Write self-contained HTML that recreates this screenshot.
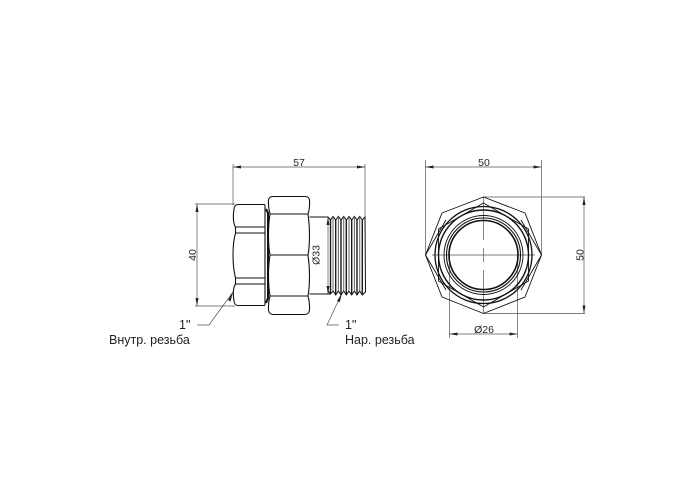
<!DOCTYPE html>
<html><head><meta charset="utf-8"><style>
html,body{margin:0;padding:0;background:#fff;width:700px;height:500px;overflow:hidden}
svg{display:block}
text{font-family:"Liberation Sans",sans-serif;fill:#222}
</style></head><body>
<svg width="700" height="500" viewBox="0 0 700 500" xmlns="http://www.w3.org/2000/svg">
<rect width="700" height="500" fill="#fff"/>
<!-- dimension lines -->
<g stroke="#555" stroke-width="0.7" fill="none">
<path d="M233 164V205M365 164V217M233 167H365"/>
<path d="M195 204H235M195 306H235M197 204V306"/>
<path d="M328 217V294"/>
<path d="M233 292L209 325H197"/>
<path d="M342 293L327 325H339"/>
<path d="M425.500 160V255M541.500 160V255M425.500 167H541.500"/>
<path d="M483 197H585M483 313.500H585M584 197V313.500"/>
<path d="M449.500 255V338M517.500 255V338M449.500 334H517.500"/>
<path d="M432 255H535M483.500 197V240M483.500 248V262M483.500 270V313M476 255H491"/>
</g>
<g fill="#222">
<path d="M233 167l8-1.500v3zM365 167l-8-1.500v3z"/>
<path d="M197 204l-1.500 8h3zM197 306l-1.500-8h3z"/>
<path d="M328 217l-1.500 8h3zM328 294l-1.500-8h3z"/>
<path d="M233 292l-5 8 2.500 1.500zM342 293l-5 8 2.800 1.200z"/>
<path d="M425.500 167l8-1.500v3zM541.500 167l-8-1.500v3z"/>
<path d="M584 197l-1.500 8h3zM584 313.500l-1.500-8h3z"/>
<path d="M449.500 334l8-1.500v3zM517.500 334l-8-1.500v3z"/>
</g>
<!-- left nut -->
<g stroke="#111" stroke-width="1.100" fill="none" stroke-linejoin="round">
<path d="M265 204.500H238Q234.500 204.500 234 209Q233 216 233.500 220Q234 225 235.500 227V233Q233 242 233 255Q233 268 235.500 278V284Q234 286 233.500 290Q233 295 234 301Q234.500 305.500 238 305.500H265"/>
<path d="M235.500 227H265M235.500 233H265M235.500 278H265M235.500 284H265" stroke-width="1"/>
<path d="M265 205V305"/>
<path d="M266 209L268 213V298L266 303" stroke-width="2"/>
<!-- right nut -->
<path d="M273 196.500H305Q309 196.500 309.500 200Q310 208 308 214Q309.500 225 309.500 235Q309.500 247 308 255Q309.500 265 309.500 275Q309.500 288 308 296Q310 303 309.500 310Q309 314.500 305 314.500H273Q269 314.500 268.500 310Q268 303 270 296Q268.500 287 268.500 275Q268.500 264 270 255Q268.500 247 268.500 235Q268.500 224 270 214Q268 207 268.500 200Q269 196.500 273 196.500Z"/>
<path d="M270 214H308M270 255H308M270 296H308"/>
<!-- neck -->
<path d="M309.500 217H328M309.500 294H330"/>
</g>
<!-- thread -->
<g stroke="#111" stroke-width="1" fill="none">
<path d="M328 217L330.500 220L333 216.500L335.700 220L338.400 216.500L341 220L343.700 216.500L346.300 220L349 216.500L351.700 220L354.400 216.500L357 220L359.700 216.500L362.300 220L365 217L365.500 292L362.300 295L359.700 291L357 295L354.400 291L351.700 295L349 291L346.300 295L343.700 291L341 295L338.400 291L335.700 295L333 291L330.500 294L328 291"/>
</g>
<g stroke="#1a1a1a" stroke-width="1.400">
<path d="M330.500 220V293M335.700 220V294M341 220V294M346.300 220V294M351.700 220V294M357 220V294M362.300 220V294"/>
</g>
<g stroke="#666" stroke-width="1">
<path d="M333 218V291M338.400 218V291M343.700 218V291M349 218V291M354.400 218V291M359.700 218V291"/>
</g>
<!-- end view -->
<g stroke="#111" fill="none" stroke-width="0.900" stroke-linejoin="round">
<path d="M483.500 197L525 213L541.500 255L525 297L483.500 313.500L442 297L425.500 255L442 213Z"/>
<path d="M483.500 203L528.500 229V281L483.500 307L438.500 281V229Z"/>
<path d="M425.500 255L446 220M425.500 255L446 290M541.500 255L521 220M541.500 255L521 290"/>
<circle cx="483.500" cy="255" r="48.500" stroke-width="1.300"/>
<circle cx="483.500" cy="255" r="45" stroke-width="1.400"/>
<circle cx="483.500" cy="255" r="39.500"/>
<circle cx="483.500" cy="255" r="37" stroke-width="1.100"/>
<circle cx="483.500" cy="255" r="34.500" stroke-width="1.600"/>
</g>
<!-- labels -->
<text x="299" y="166" font-size="10.500" text-anchor="middle">57</text>
<text x="484" y="166" font-size="10.500" text-anchor="middle">50</text>
<text x="484" y="333" font-size="10.500" text-anchor="middle">Ø26</text>
<text transform="translate(196 255) rotate(-90)" font-size="10.500" text-anchor="middle">40</text>
<text transform="translate(319.500 255) rotate(-90)" font-size="10.500" text-anchor="middle">Ø33</text>
<text transform="translate(583.500 255) rotate(-90)" font-size="10.500" text-anchor="middle">50</text>
<text x="179" y="329" font-size="12.500">1"</text>
<text x="345" y="329" font-size="12.500">1"</text>
<text x="109" y="344" font-size="12.500">Внутр. резьба</text>
<text x="345" y="344" font-size="12.500">Нар. резьба</text>
</svg>
</body></html>
